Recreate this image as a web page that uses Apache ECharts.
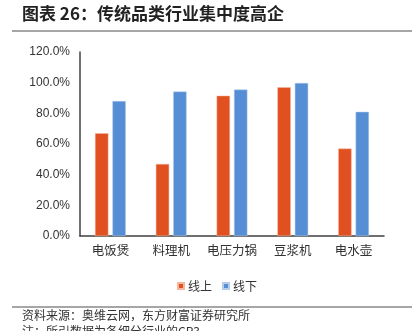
<!DOCTYPE html>
<html><head><meta charset="utf-8">
<script src="https://cdn.jsdelivr.net/npm/echarts@6/dist/echarts.min.js"></script>
<style>html,body{margin:0;padding:0;background:#fff}#c{width:415px;height:331px}</style>
</head><body><div id="c"></div>
<script>
const categories = ['电饭煲', '料理机', '电压力锅', '豆浆机', '电水壶'];
const online = [67.0, 47.0, 91.5, 97.0, 57.0];
const offline = [88.0, 94.2, 95.5, 99.8, 81.0];
const yTicks = [0, 20, 40, 60, 80, 100, 120];
const seriesNames = ['线上', '线下'];
const titleText = '图表 26：传统品类行业集中度高企';
const sourceText = '资料来源：奥维云网，东方财富证券研究所';
const noteText = '注：所引数据为各细分行业的CR3';

const CJK = '"Noto Sans CJK SC", "Liberation Sans", sans-serif';
const chart = echarts.init(document.getElementById('c'), null, {renderer: 'canvas'});
chart.setOption({
  animation: false,
  backgroundColor: '#fff',
  textStyle: {fontFamily: CJK},
  grid: {left: 80, right: 31, top: 52, bottom: 95, containLabel: false},
  legend: {
    data: seriesNames, left: 172, top: 275, itemWidth: 6, itemHeight: 6, itemGap: 10,
    icon: 'rect', textStyle: {fontSize: 12, color: '#333', padding: [0, 0, 0, -1]}
  },
  xAxis: {
    type: 'category', data: categories,
    axisLine: {lineStyle: {color: '#404040', width: 1.5}},
    axisTick: {inside: true, length: 4, lineStyle: {color: '#404040'}},
    axisLabel: {fontSize: 12.5, color: '#333', margin: 8, interval: 0, fontFamily: CJK}
  },
  yAxis: {
    type: 'value', min: yTicks[0], max: yTicks[yTicks.length - 1], interval: 20,
    axisLine: {show: true, lineStyle: {color: '#404040', width: 1.5}},
    axisTick: {show: false},
    splitLine: {show: false},
    axisLabel: {fontSize: 12, color: '#333', margin: 10, fontFamily: '"Liberation Sans", sans-serif',
      formatter: v => v.toFixed(1) + '%'}
  },
  series: [
    {name: seriesNames[0], type: 'bar', data: online, barWidth: '22%', barGap: '30%',
     itemStyle: {color: '#E05020', borderColor: '#F5B89E', borderWidth: 0.5}},
    {name: seriesNames[1], type: 'bar', data: offline, barWidth: '22%',
     itemStyle: {color: '#558ED5', borderColor: '#B5CCEA', borderWidth: 0.5}}
  ],
  graphic: [
    {type: 'text', left: 22, top: 5, style: {text: titleText, font: 'bold 17px ' + CJK, fill: '#222'}},
    {type: 'line', shape: {x1: 12, y1: 31, x2: 412, y2: 31}, style: {stroke: '#888', lineWidth: 1.5}},
    {type: 'line', shape: {x1: 12, y1: 307, x2: 412, y2: 307}, style: {stroke: '#888', lineWidth: 1.5}},
    {type: 'text', left: 22, top: 309, style: {text: sourceText, font: '12px ' + CJK, fill: '#333'}},
    {type: 'text', left: 22, top: 325, style: {text: noteText, font: '12px ' + CJK, fill: '#333'}}
  ]
});
</script></body></html>
